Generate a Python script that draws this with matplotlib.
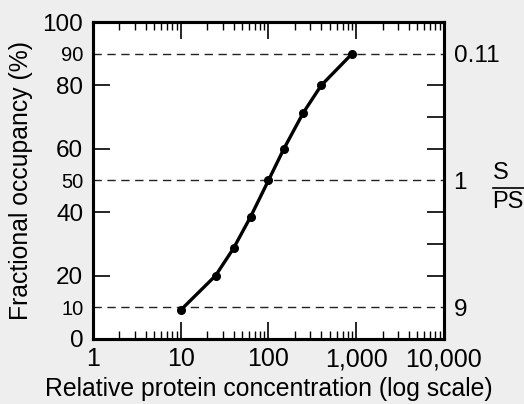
import numpy as np
import matplotlib
matplotlib.use('Agg')
import matplotlib.pyplot as plt
from matplotlib.ticker import FuncFormatter, LogLocator, NullFormatter

plt.rcParams['font.family'] = ['Liberation Sans', 'DejaVu Sans']

# protein concentration vs fractional occupancy
conc = [10, 25, 40, 62.5, 100, 150, 250, 400, 900]
occupancy = [9.1, 20, 28.6, 38.5, 50, 60, 71.4, 80, 90]

left_major = [0, 20, 40, 60, 80, 100]
ref_levels = [10, 50, 90]
ref_labels = ['10', '50', '90']
right_labels = ['9', '1', '0.11']   # S/PS at the reference levels
right_minor = [20, 30, 40, 60, 70, 80]
x_ticks = [1, 10, 100, 1000, 10000]

fig = plt.figure(figsize=(5.24, 4.04), dpi=100, facecolor='#eeeeee')
ax = fig.add_axes([0.1775, 0.161, 0.6695, 0.7845])
ax.set_facecolor('white')

for lvl in ref_levels:
    ax.axhline(lvl, color='#222222', lw=1.0, ls=(0, (6, 4)), zorder=1)

ax.plot(conc, occupancy, color='black', lw=2.4, marker='o', ms=5.5, zorder=3)

ax.set_xscale('log')
ax.set_xlim(1, 10000)
ax.set_ylim(0, 100)
ax.set_xticks(x_ticks)
ax.xaxis.set_major_formatter(FuncFormatter(lambda v, p: '{:,.0f}'.format(v)))
ax.xaxis.set_minor_locator(LogLocator(base=10, subs=np.arange(2, 10), numticks=50))
ax.xaxis.set_minor_formatter(NullFormatter())

ax.set_yticks(left_major)
ax.set_yticks(ref_levels, minor=True)
ax.set_yticklabels(ref_labels, minor=True)

ax.tick_params(axis='x', which='both', direction='in', top=True, labelsize=18, pad=6)
ax.tick_params(axis='x', which='major', length=12, width=1.2)
ax.tick_params(axis='x', which='minor', length=6, width=1.0)
ax.tick_params(axis='y', which='major', direction='in', length=12, width=1.2,
               labelsize=17.5, pad=7)
ax.tick_params(axis='y', which='minor', length=0, labelsize=14.5, pad=7)

for s in ax.spines.values():
    s.set_linewidth(2.2)

ax.set_xlabel('Relative protein concentration (log scale)', fontsize=17.8, labelpad=4)
ax.set_ylabel('Fractional occupancy (%)', fontsize=17.8, labelpad=7)

ax2 = ax.twinx()
ax2.set_ylim(0, 100)
ax2.set_yticks(ref_levels)
ax2.set_yticklabels(right_labels)
ax2.set_yticks(right_minor, minor=True)
ax2.tick_params(axis='y', which='major', length=0, labelsize=17.5, pad=7)
ax2.tick_params(axis='y', which='minor', direction='in', length=12, width=1.2)
for s in ax2.spines.values():
    s.set_linewidth(2.2)

# S / PS fraction label on the right
fig.text(0.941, 0.544, 'S', fontsize=17, ha='left', va='bottom')
fig.text(0.939, 0.526, 'PS', fontsize=17, ha='left', va='top')
fig.add_artist(plt.Line2D([0.941, 1.0], [0.535, 0.535], transform=fig.transFigure,
                          color='black', lw=1.2))

fig.savefig('out.png', dpi=100, facecolor=fig.get_facecolor())
